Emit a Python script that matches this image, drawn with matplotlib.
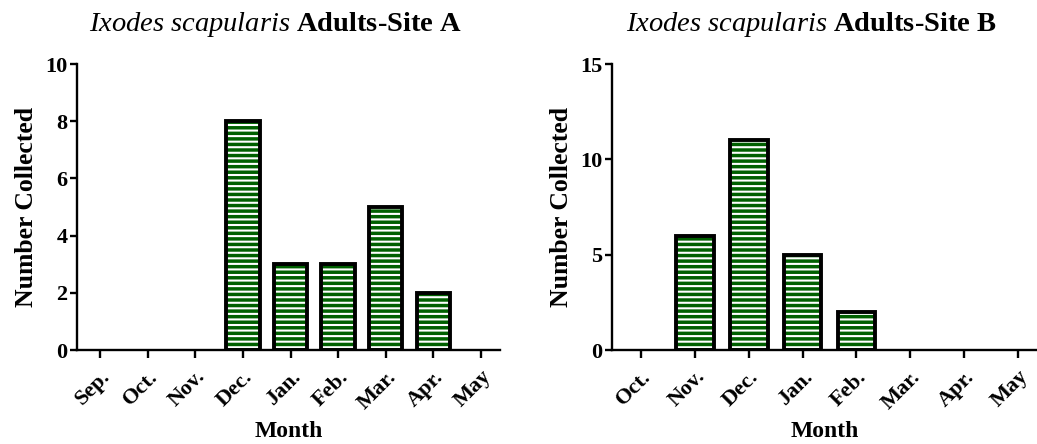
import matplotlib
matplotlib.use("Agg")
import matplotlib.pyplot as plt

# data
months_a = ["Sep.", "Oct.", "Nov.", "Dec.", "Jan.", "Feb.", "Mar.", "Apr.", "May"]
counts_a = [0, 0, 0, 8, 3, 3, 5, 2, 0]

months_b = ["Oct.", "Nov.", "Dec.", "Jan.", "Feb.", "Mar.", "Apr.", "May"]
counts_b = [0, 6, 11, 5, 2, 0, 0, 0]

plt.rcParams["font.family"] = ["Liberation Serif", "DejaVu Serif"]
plt.rcParams["font.weight"] = "bold"
plt.rcParams["axes.labelweight"] = "bold"
plt.rcParams["axes.titleweight"] = "bold"
plt.rcParams["mathtext.fontset"] = "custom"
plt.rcParams["mathtext.it"] = "Liberation Serif:style=italic:weight=normal"
plt.rcParams["mathtext.rm"] = "Liberation Serif:weight=bold"
plt.rcParams["hatch.linewidth"] = 1.5

GREEN = "#006000"

fig = plt.figure(figsize=(10.37, 4.44), dpi=100)
ax_a = fig.add_axes([0.0743, 0.2117, 0.408, 0.644])
ax_b = fig.add_axes([0.590, 0.2117, 0.41, 0.644])


def draw_panel(ax, months, counts, ymax, yticks, xlim, title):
    x = list(range(len(months)))
    # empty months get no outline, as in the original
    edge_w = [2.8 if c > 0 else 0 for c in counts]
    ax.bar(x, counts, width=0.7, color=GREEN, edgecolor="white",
           hatch="---", linewidth=0, zorder=2)
    ax.bar(x, counts, width=0.7, fill=False, edgecolor="black",
           linewidth=edge_w, zorder=3)
    ax.set_xlim(*xlim)
    ax.set_ylim(0, ymax)
    ax.set_yticks(yticks)
    ax.set_xticks(x)
    ax.set_xticklabels(months, rotation=45, ha="right", rotation_mode="anchor")
    for side in ("top", "right"):
        ax.spines[side].set_visible(False)
    for side in ("left", "bottom"):
        ax.spines[side].set_linewidth(1.7)
    ax.spines["left"].set_zorder(4)
    ax.tick_params(axis="both", width=1.7, length=5, labelsize=16, pad=2)
    ax.tick_params(axis="x", length=6, pad=6)
    ax.set_xlabel("Month", fontsize=17, labelpad=6)
    ax.set_ylabel("Number Collected", fontsize=18.5, labelpad=5)
    ax.set_title(title, fontsize=20.5, pad=24, x=0.47)


draw_panel(ax_a, months_a, counts_a, 10, [0, 2, 4, 6, 8, 10], (-0.48, 8.4),
           r"$\mathit{Ixodes\ scapularis}$ Adults-Site A")
draw_panel(ax_b, months_b, counts_b, 15, [0, 5, 10, 15], (-0.54, 7.35),
           r"$\mathit{Ixodes\ scapularis}$ Adults-Site B")

fig.savefig("out.png", dpi=100)
